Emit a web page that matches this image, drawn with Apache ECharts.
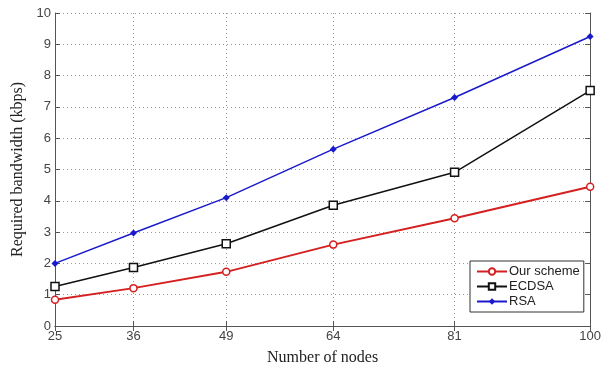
<!DOCTYPE html>
<html>
<head>
<meta charset="utf-8">
<script src="https://cdn.jsdelivr.net/npm/echarts@6/dist/echarts.min.js"></script>
<style>
  html, body { margin: 0; padding: 0; background: #fff; }
  #chart { width: 604px; height: 371px; }
</style>
</head>
<body>
<div id="chart"></div>
<script>
const nodes = [25, 36, 49, 64, 81, 100];
const ourScheme = [0.84, 1.21, 1.73, 2.6, 3.44, 4.45];
const ecdsa = [1.26, 1.87, 2.63, 3.86, 4.91, 7.52];
const rsa = [2.0, 2.97, 4.1, 5.65, 7.3, 9.25];

const pairs = vals => nodes.map((n, i) => [n, vals[i]]);

const chart = echarts.init(document.getElementById('chart'));

const gridLine = {
  show: true,
  lineStyle: { color: '#999', type: [1, 3], width: 1 }
};

const option = {
  backgroundColor: '#fff',
  animation: false,
  grid: { left: 55, right: 9, top: 13, bottom: 41 },
  legend: {
    orient: 'vertical',
    left: 470,
    top: 261,
    padding: [4, 4, 4, 6],
    itemGap: 2,
    itemWidth: 30,
    itemHeight: 8,
    borderColor: '#333',
    borderWidth: 1,
    backgroundColor: '#fff',
    textStyle: { fontFamily: 'Liberation Sans', fontSize: 13, color: '#222', padding: [0, 0, 0, -3] },
    data: ['Our scheme', 'ECDSA', 'RSA']
  },
  xAxis: [{
    type: 'value',
    min: 25,
    max: 100,
    name: 'Number of nodes',
    nameLocation: 'middle',
    nameGap: 24,
    nameTextStyle: { fontFamily: 'Liberation Serif', fontSize: 16, color: '#222' },
    axisLine: { lineStyle: { color: '#555' } },
    axisTick: { inside: true, length: 5, customValues: nodes, lineStyle: { color: '#555' } },
    axisLabel: { customValues: nodes, fontFamily: 'Liberation Sans', fontSize: 13, color: '#444', margin: 4 },
    splitLine: gridLine
  }, {
    type: 'value',
    position: 'top',
    min: 25,
    max: 100,
    axisLine: { show: true, lineStyle: { color: '#555' } },
    axisTick: { show: true, inside: true, length: 5, customValues: nodes, lineStyle: { color: '#555' } },
    axisLabel: { show: false },
    splitLine: { show: false }
  }],
  yAxis: [{
    type: 'value',
    min: 0,
    max: 10,
    interval: 1,
    name: 'Required bandwidth (kbps)',
    nameLocation: 'middle',
    nameGap: 22,
    nameTextStyle: { fontFamily: 'Liberation Serif', fontSize: 16, color: '#222' },
    axisLine: { show: true, lineStyle: { color: '#555' } },
    axisTick: { show: true, inside: true, length: 5, lineStyle: { color: '#555' } },
    axisLabel: { fontFamily: 'Liberation Sans', fontSize: 13, color: '#444', margin: 4 },
    splitLine: gridLine
  }, {
    type: 'value',
    position: 'right',
    min: 0,
    max: 10,
    interval: 1,
    axisLine: { show: true, lineStyle: { color: '#555' } },
    axisTick: { show: true, inside: true, length: 5, lineStyle: { color: '#555' } },
    axisLabel: { show: false },
    splitLine: { show: false }
  }],
  series: [{
    name: 'Our scheme',
    type: 'line',
    data: pairs(ourScheme),
    symbol: 'circle',
    symbolSize: 7,
    color: '#d42020',
    lineStyle: { width: 2, color: '#d42020' },
    itemStyle: { color: '#fff', borderColor: '#d42020', borderWidth: 1.5 }
  }, {
    name: 'ECDSA',
    type: 'line',
    data: pairs(ecdsa),
    symbol: 'rect',
    symbolSize: 8,
    color: '#111',
    lineStyle: { width: 1.5, color: '#111' },
    itemStyle: { color: '#fff', borderColor: '#111', borderWidth: 1.5 }
  }, {
    name: 'RSA',
    type: 'line',
    data: pairs(rsa),
    symbol: 'diamond',
    symbolSize: 7,
    color: '#1a1acc',
    lineStyle: { width: 1.5, color: '#1a1acc' },
    itemStyle: { color: '#1a1acc' }
  }]
};

chart.setOption(option);
</script>
</body>
</html>
